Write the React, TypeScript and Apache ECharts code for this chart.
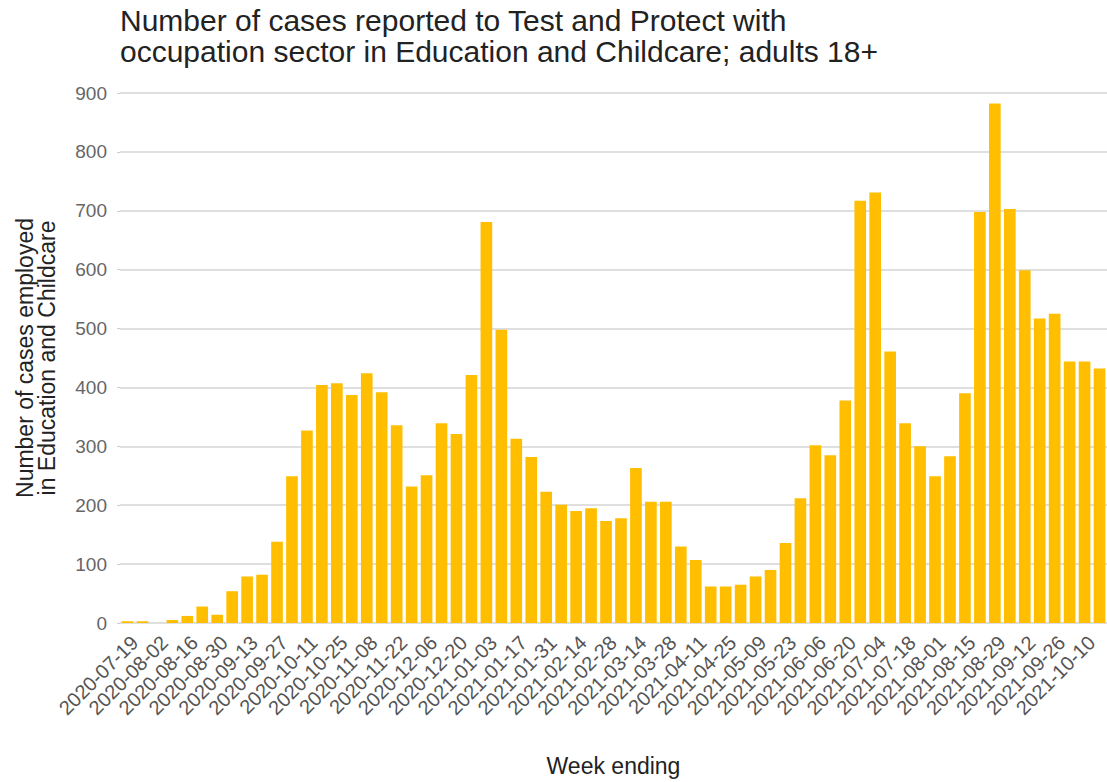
import React, { useEffect, useRef } from "react";
import * as echarts from "echarts";

const TITLE = "Number of cases reported to Test and Protect with\noccupation sector in Education and Childcare; adults 18+";
const Y_NAME = "Number of cases employed\nin Education and Childcare";
const X_NAME = "Week ending";

const weeks = [
  "2020-07-19", "2020-07-26", "2020-08-02", "2020-08-09", "2020-08-16", "2020-08-23", "2020-08-30",
  "2020-09-06", "2020-09-13", "2020-09-20", "2020-09-27", "2020-10-04", "2020-10-11", "2020-10-18",
  "2020-10-25", "2020-11-01", "2020-11-08", "2020-11-15", "2020-11-22", "2020-11-29", "2020-12-06",
  "2020-12-13", "2020-12-20", "2020-12-27", "2021-01-03", "2021-01-10", "2021-01-17", "2021-01-24",
  "2021-01-31", "2021-02-07", "2021-02-14", "2021-02-21", "2021-02-28", "2021-03-07", "2021-03-14",
  "2021-03-21", "2021-03-28", "2021-04-04", "2021-04-11", "2021-04-18", "2021-04-25", "2021-05-02",
  "2021-05-09", "2021-05-16", "2021-05-23", "2021-05-30", "2021-06-06", "2021-06-13", "2021-06-20",
  "2021-06-27", "2021-07-04", "2021-07-11", "2021-07-18", "2021-07-25", "2021-08-01", "2021-08-08",
  "2021-08-15", "2021-08-22", "2021-08-29", "2021-09-05", "2021-09-12", "2021-09-19", "2021-09-26",
  "2021-10-03", "2021-10-10", "2021-10-17",
];

const cases = [
  3, 3, 0, 5, 12, 28, 14, 54, 79, 82, 138, 249, 327, 404, 407, 387, 424, 392, 336, 232, 251, 339,
  321, 421, 681, 498, 313, 282, 223, 201, 190, 195, 173, 178, 263, 206, 206, 130, 107, 62, 62, 65,
  79, 90, 136, 212, 302, 285, 378, 717, 731, 461, 339, 300, 249, 283, 390, 698, 882, 703, 599, 517,
  525, 444, 444, 432,
];

const Y_MIN = 0;
const Y_MAX = 900;
const Y_STEP = 100;

const FONT = "'Liberation Sans', Arial, Helvetica, sans-serif";

export default function App() {
  const ref = useRef<HTMLDivElement>(null);
  useEffect(() => {
    if (!ref.current) return;
    const chart = echarts.init(ref.current, undefined, { renderer: "svg" });
    chart.setOption({
      animation: false,
      backgroundColor: "#ffffff",
      textStyle: { fontFamily: FONT },
      title: {
        text: TITLE,
        left: 115,
        top: 0,
        textStyle: { fontFamily: FONT, fontSize: 30, fontWeight: "normal", color: "#222222", lineHeight: 31 },
      },
      grid: { left: 120, top: 93, width: 990, height: 532, containLabel: false },
      xAxis: {
        type: "category",
        data: weeks,
        axisLine: { show: false },
        axisTick: { show: false },
        axisLabel: {
          interval: 1,
          rotate: 45,
          fontFamily: FONT,
          fontSize: 20,
          color: "#555555",
          margin: 9,
          verticalAlign: "top",
        },
        name: X_NAME,
        nameLocation: "middle",
        nameGap: 131,
        nameTextStyle: { fontFamily: FONT, fontSize: 23, color: "#222222" },
      },
      yAxis: {
        type: "value",
        min: Y_MIN,
        max: Y_MAX,
        interval: Y_STEP,
        axisLine: { show: false },
        axisTick: { show: true, length: 3, lineStyle: { color: "#cccccc" } },
        axisLabel: { fontFamily: FONT, fontSize: 19, color: "#666666", margin: 13 },
        splitLine: { lineStyle: { color: "#d4d4d4", width: 1.5 } },
        name: Y_NAME,
        nameLocation: "middle",
        nameGap: 62,
        nameRotate: 90,
        nameTextStyle: { fontFamily: FONT, fontSize: 23, color: "#222222", lineHeight: 22, align: "center" },
      },
      series: [
        {
          type: "bar",
          data: cases,
          barCategoryGap: "22%",
          itemStyle: { color: "#FFBF00" },
        },
      ],
    });
    return () => chart.dispose();
  }, []);
  return <div ref={ref} style={{ position: "fixed", left: 0, top: 0, width: 1107, height: 782 }} />;
}
